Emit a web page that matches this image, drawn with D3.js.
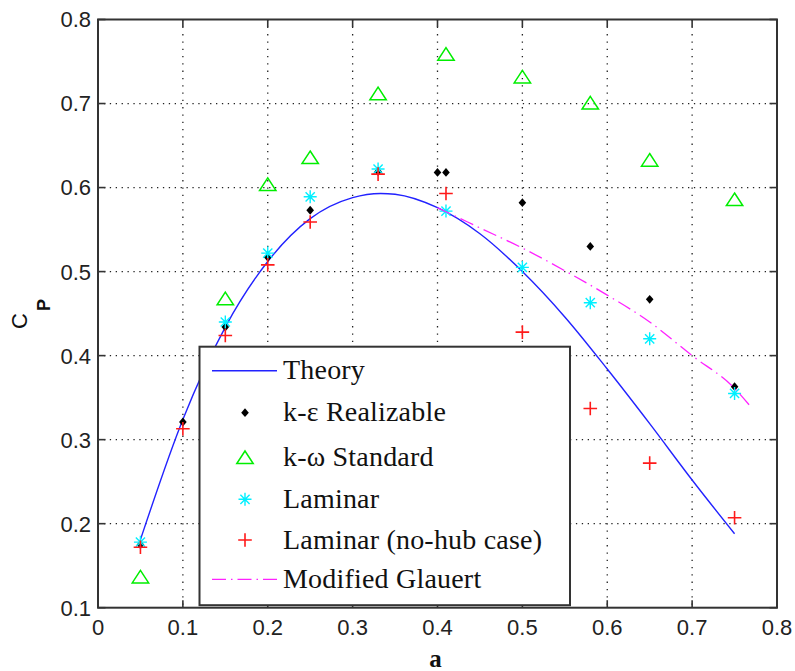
<!DOCTYPE html>
<html>
<head>
<meta charset="utf-8">
<script src="https://cdn.jsdelivr.net/npm/d3@7"></script>
<style>
  body { margin: 0; background: #fff; }
  svg { display: block; }
</style>
</head>
<body>
<svg id="chart" width="795" height="671"></svg>
<script>
// Axis ticks
const xTicks = [0, 0.1, 0.2, 0.3, 0.4, 0.5, 0.6, 0.7, 0.8];
const yTicks = [0.1, 0.2, 0.3, 0.4, 0.5, 0.6, 0.7, 0.8];

// Theory curve (power coefficient vs axial induction factor)
const theoryA  = [0.05, 0.10, 0.15, 0.20, 0.25, 0.30, 0.333, 0.35, 0.40, 0.45, 0.50, 0.55, 0.60, 0.65, 0.70, 0.75];
const theoryCp = [0.181, 0.324, 0.434, 0.512, 0.563, 0.588, 0.593, 0.592, 0.576, 0.545, 0.500, 0.446, 0.384, 0.319, 0.252, 0.188];

// Modified Glauert correction (high induction branch)
const glauertA  = [0.40, 0.45, 0.50, 0.55, 0.60, 0.65, 0.70, 0.75, 0.77];
const glauertCp = [0.576, 0.552, 0.528, 0.501, 0.472, 0.440, 0.400, 0.361, 0.338];

// CFD results
const keA  = [0.05, 0.10, 0.15, 0.20, 0.25, 0.33, 0.40, 0.41, 0.50, 0.58, 0.65, 0.75];
const keCp = [0.175, 0.321, 0.434, 0.517, 0.573, 0.619, 0.618, 0.618, 0.582, 0.530, 0.467, 0.363];

const kwA  = [0.05, 0.15, 0.20, 0.25, 0.33, 0.41, 0.50, 0.58, 0.65, 0.75];
const kwCp = [0.137, 0.468, 0.604, 0.636, 0.712, 0.759, 0.732, 0.701, 0.633, 0.586];

const lamA  = [0.05, 0.15, 0.20, 0.25, 0.33, 0.41, 0.50, 0.58, 0.65, 0.75];
const lamCp = [0.178, 0.440, 0.522, 0.589, 0.622, 0.572, 0.505, 0.463, 0.420, 0.355];

const nohubA  = [0.05, 0.10, 0.15, 0.20, 0.25, 0.33, 0.41, 0.50, 0.58, 0.65, 0.75];
const nohubCp = [0.172, 0.313, 0.424, 0.508, 0.559, 0.616, 0.593, 0.428, 0.337, 0.272, 0.207];

const legendLabels = ["Theory", "k-\u03b5 Realizable", "k-\u03c9 Standard", "Laminar", "Laminar (no-hub case)", "Modified Glauert"];

const svg = d3.select("#chart");
const pLeft = 98, pRight = 777, pTop = 19.5, pBottom = 607.7;

const x = d3.scaleLinear().domain([0, 0.8]).range([pLeft, pRight]);
const y = d3.scaleLinear().domain([0.1, 0.8]).range([pBottom, pTop]);

const frameColor = "#333";
const tickLen = 7.5;

// Dotted grid
const grid = svg.append("g");
grid.selectAll("line.vx").data(xTicks.slice(1, -1)).join("line")
  .attr("x1", d => x(d)).attr("x2", d => x(d))
  .attr("y1", pTop).attr("y2", pBottom)
  .attr("stroke", "#222").attr("stroke-width", 1.3)
  .attr("stroke-dasharray", "1.3,6");
grid.selectAll("line.hy").data(yTicks.slice(1, -1)).join("line")
  .attr("x1", pLeft).attr("x2", pRight)
  .attr("y1", d => y(d)).attr("y2", d => y(d))
  .attr("stroke", "#222").attr("stroke-width", 1.3)
  .attr("stroke-dasharray", "1.3,4.6");

// Inward ticks on all four sides
const ticks = svg.append("g").attr("stroke", frameColor).attr("stroke-width", 1.6);
xTicks.forEach(t => {
  ticks.append("line").attr("x1", x(t)).attr("x2", x(t)).attr("y1", pBottom).attr("y2", pBottom - tickLen);
  ticks.append("line").attr("x1", x(t)).attr("x2", x(t)).attr("y1", pTop).attr("y2", pTop + tickLen);
});
yTicks.forEach(t => {
  ticks.append("line").attr("y1", y(t)).attr("y2", y(t)).attr("x1", pLeft).attr("x2", pLeft + tickLen);
  ticks.append("line").attr("y1", y(t)).attr("y2", y(t)).attr("x1", pRight).attr("x2", pRight - tickLen);
});

// Tick labels
const tickFont = "'Liberation Sans', Arial, sans-serif";
svg.append("g").selectAll("text").data(xTicks).join("text")
  .attr("x", d => x(d)).attr("y", 635)
  .attr("text-anchor", "middle")
  .attr("font-family", tickFont).attr("font-size", 22).attr("fill", "#222")
  .text(d => d === 0 ? "0" : d3.format(".1f")(d));
svg.append("g").selectAll("text").data(yTicks).join("text")
  .attr("x", 91).attr("y", d => y(d)).attr("dy", "0.36em")
  .attr("text-anchor", "end")
  .attr("font-family", tickFont).attr("font-size", 22).attr("fill", "#222")
  .text(d => d3.format(".1f")(d));

// Clip for data inside the axes
svg.append("clipPath").attr("id", "plotclip")
  .append("rect").attr("x", pLeft).attr("y", pTop).attr("width", pRight - pLeft).attr("height", pBottom - pTop);
const plot = svg.append("g").attr("clip-path", "url(#plotclip)");

const line = d3.line().x(d => x(d[0])).y(d => y(d[1])).curve(d3.curveMonotoneX);

// Theory curve
plot.append("path")
  .datum(d3.zip(theoryA, theoryCp))
  .attr("d", line)
  .attr("fill", "none").attr("stroke", "#2222ff").attr("stroke-width", 1.4);

// Marker shapes
const markers = {
  diamond: g => g.append("path").attr("d", "M0,-4.4L3.8,0L0,4.4L-3.8,0Z").attr("fill", "#000"),
  triangle: g => g.append("path").attr("d", "M0,-6.3L8.2,6.3L-8.2,6.3Z")
      .attr("fill", "none").attr("stroke", "#00ee00").attr("stroke-width", 1.5),
  asterisk: g => g.append("path")
      .attr("d", "M-6.5,0H6.5M0,-6.5V6.5M-4.6,-4.6L4.6,4.6M-4.6,4.6L4.6,-4.6")
      .attr("fill", "none").attr("stroke", "#00f0ff").attr("stroke-width", 1.4),
  plus: g => g.append("path").attr("d", "M-6.8,0H6.8M0,-6.8V6.8")
      .attr("fill", "none").attr("stroke", "#ff1a1a").attr("stroke-width", 1.6)
};

function drawSeries(as, cps, kind) {
  const g = plot.append("g");
  d3.zip(as, cps).forEach(([a, cp]) => {
    const m = g.append("g").attr("transform", `translate(${x(a)},${y(cp)})`);
    markers[kind](m);
  });
}
drawSeries(keA, keCp, "diamond");
drawSeries(kwA, kwCp, "triangle");
drawSeries(lamA, lamCp, "asterisk");
drawSeries(nohubA, nohubCp, "plus");

// Modified Glauert, dash-dot
plot.append("path")
  .datum(d3.zip(glauertA, glauertCp))
  .attr("d", line)
  .attr("fill", "none").attr("stroke", "#ff22ff").attr("stroke-width", 1.3)
  .attr("stroke-dasharray", "14,5,1.5,5");

// Axes frame
svg.append("rect")
  .attr("x", pLeft).attr("y", pTop).attr("width", pRight - pLeft).attr("height", pBottom - pTop)
  .attr("fill", "none").attr("stroke", frameColor).attr("stroke-width", 2);

// Legend
const lg = svg.append("g");
const lgX = 199.5, lgY = 346.7, lgW = 370.5, lgH = 258.5;
lg.append("rect").attr("x", lgX).attr("y", lgY).attr("width", lgW).attr("height", lgH)
  .attr("fill", "#fff").attr("stroke", frameColor).attr("stroke-width", 2);
const rowY = [370.7, 412.7, 457.3, 499.3, 540, 579.3];
const symX = 245, lineX1 = 212, lineX2 = 277, textX = 283;

lg.append("line").attr("x1", lineX1).attr("x2", lineX2).attr("y1", rowY[0]).attr("y2", rowY[0])
  .attr("stroke", "#2222ff").attr("stroke-width", 1.4);
["diamond", "triangle", "asterisk", "plus"].forEach((k, i) => {
  const m = lg.append("g").attr("transform", `translate(${symX},${rowY[i + 1]})`);
  markers[k](m);
});
lg.append("line").attr("x1", lineX1).attr("x2", lineX2).attr("y1", rowY[5]).attr("y2", rowY[5])
  .attr("stroke", "#ff22ff").attr("stroke-width", 1.3)
  .attr("stroke-dasharray", "14,5,1.5,5");

lg.selectAll("text").data(legendLabels).join("text")
  .attr("x", textX).attr("y", (d, i) => rowY[i]).attr("dy", "0.31em")
  .attr("font-family", "'Liberation Serif', 'Times New Roman', serif")
  .attr("font-size", 28).attr("letter-spacing", 0.2).attr("fill", "#111")
  .text(d => d);

// Axis titles
svg.append("text")
  .attr("x", (pLeft + pRight) / 2 - 2).attr("y", 667)
  .attr("text-anchor", "middle")
  .attr("font-family", "'Liberation Serif', 'Times New Roman', serif")
  .attr("font-weight", "bold").attr("font-size", 25).attr("fill", "#111")
  .text("a");

const yl = svg.append("text")
  .attr("transform", "translate(26.5,329) rotate(-90)")
  .attr("font-family", tickFont).attr("font-size", 22).attr("fill", "#111");
yl.append("tspan").text("C");
yl.append("tspan").attr("dx", 2).attr("dy", 23)
  .attr("font-weight", "bold").attr("font-size", 18).text("P");
</script>
</body>
</html>
